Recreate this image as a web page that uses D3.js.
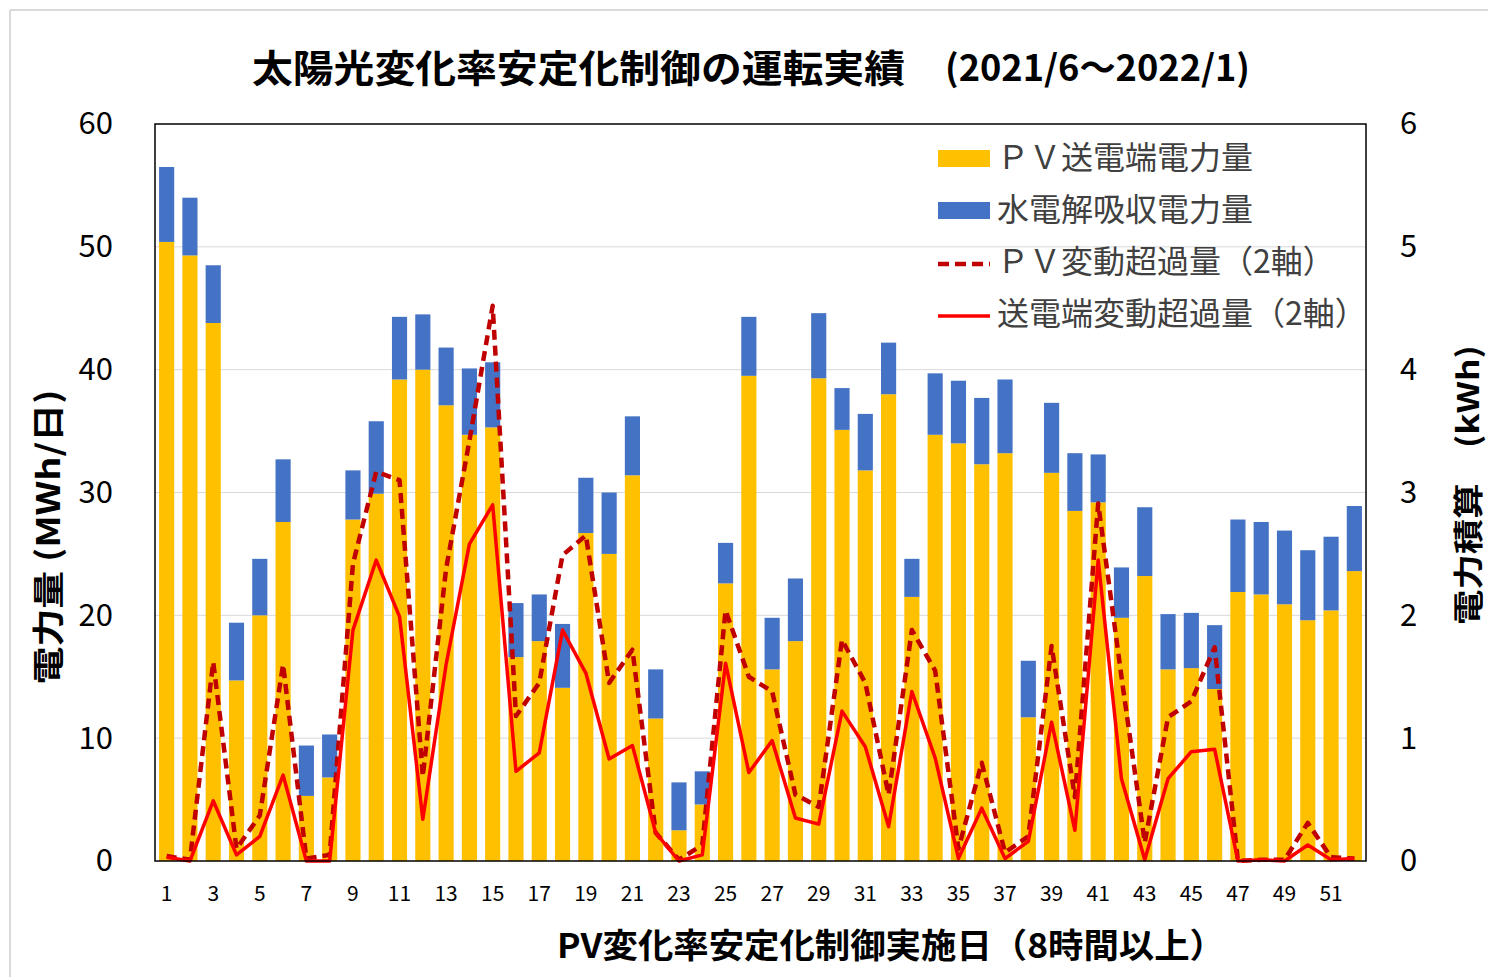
<!DOCTYPE html>
<html><head><meta charset="utf-8">
<script src="https://cdn.jsdelivr.net/npm/d3@7"></script>
<style>
html,body{margin:0;padding:0;background:#fff;}
text{font-family:"Noto Sans CJK JP","Noto Sans",sans-serif;}
</style></head>
<body><svg id="c" width="1488" height="977"></svg>
<script>
const days = d3.range(1, 53);
const pvSend = [50.4,49.3,43.8,14.7,20.0,27.6,5.3,6.8,27.8,29.9,39.2,40.0,37.1,34.7,35.3,16.6,17.9,14.1,26.7,25.0,31.4,11.6,2.5,4.6,22.6,39.5,15.6,17.9,39.3,35.1,31.8,38.0,21.5,34.7,34.0,32.3,33.2,11.7,31.6,28.5,29.2,19.8,23.2,15.6,15.7,14.0,21.9,21.7,20.9,19.6,20.4,23.6];
const hydro = [6.1,4.7,4.7,4.7,4.6,5.1,4.1,3.5,4.0,5.9,5.1,4.5,4.7,5.4,5.3,4.4,3.8,5.2,4.5,5.0,4.8,4.0,3.9,2.7,3.3,4.8,4.2,5.1,5.3,3.4,4.6,4.2,3.1,5.0,5.1,5.4,6.0,4.6,5.7,4.7,3.9,4.1,5.6,4.5,4.5,5.2,5.9,5.9,6.0,5.7,6.0,5.3];
const pvExcess = [0.04,0.01,1.62,0.10,0.37,1.60,0.02,0.05,2.42,3.17,3.10,0.69,2.38,3.42,4.52,1.18,1.45,2.49,2.65,1.45,1.72,0.23,0.01,0.13,2.04,1.50,1.38,0.54,0.44,1.80,1.45,0.54,1.88,1.55,0.10,0.80,0.07,0.20,1.75,0.52,2.91,1.50,0.15,1.17,1.30,1.74,0.00,0.01,0.01,0.31,0.03,0.02];
const sendExcess = [0.03,0.00,0.49,0.05,0.20,0.70,0.00,0.00,1.88,2.45,1.99,0.34,1.60,2.58,2.90,0.73,0.88,1.88,1.53,0.83,0.94,0.23,0.00,0.05,1.61,0.72,0.98,0.35,0.30,1.22,0.93,0.28,1.38,0.84,0.02,0.43,0.02,0.16,1.13,0.25,2.45,0.67,0.01,0.67,0.89,0.91,0.00,0.01,0.00,0.13,0.01,0.02];
const yTicks = [0,10,20,30,40,50,60];
const y2Ticks = [0,1,2,3,4,5,6];
const xTickLabels = days.filter(d => d % 2 === 1);
const seriesNames = ["ＰＶ送電端電力量","水電解吸収電力量","ＰＶ変動超過量（2軸）","送電端変動超過量（2軸）"];
const titleMain = "太陽光変化率安定化制御の運転実績";
const titleSub = "(2021/6～2022/1)";
const xTitle = "PV変化率安定化制御実施日（8時間以上）";
const yTitle = "電力量 (MWh/日)";
const y2Title = "電力積算　(kWh)";

const svg = d3.select("#c");
const L = 155, R = 1366, T = 124, B = 861;
const cPV = "#FFC000", cH = "#4472C4", cDash = "#C00000", cSolid = "#FF0000";

// outer chart border
svg.append("line").attr("x1",10).attr("y1",10).attr("x2",1488).attr("y2",10).attr("stroke","#d9d9d9").attr("stroke-width",2);
svg.append("line").attr("x1",10).attr("y1",10).attr("x2",10).attr("y2",977).attr("stroke","#d9d9d9").attr("stroke-width",2);

const x = d3.scaleBand().domain(days).range([L, R]).paddingInner(0.35).paddingOuter(0.175);
const y = d3.scaleLinear().domain([0, 60]).range([B, T]);
const y2 = d3.scaleLinear().domain([0, 6]).range([B, T]);

// gridlines
svg.append("g").selectAll("line").data(yTicks.filter(t => t > 0 && t < 60)).join("line")
  .attr("x1", L).attr("x2", R).attr("y1", d => y(d)).attr("y2", d => y(d))
  .attr("stroke", "#d9d9d9").attr("stroke-width", 1);

// stacked bars
const stackData = days.map((d, i) => ({day: d, pv: pvSend[i], h: hydro[i]}));
const stack = d3.stack().keys(["pv", "h"])(stackData);
const colors = [cPV, cH];
svg.append("g").selectAll("g").data(stack).join("g").attr("fill", (d, i) => colors[i])
  .selectAll("rect").data(d => d).join("rect")
  .attr("x", d => x(d.data.day)).attr("width", x.bandwidth())
  .attr("y", d => y(d[1])).attr("height", d => y(d[0]) - y(d[1]));

// lines
const line = d3.line().x((d, i) => x(days[i]) + x.bandwidth() / 2).y(d => y2(d));
svg.append("path").attr("d", line(pvExcess)).attr("fill", "none").attr("stroke", cDash)
  .attr("stroke-width", 4.5).attr("stroke-dasharray", "10,6").attr("stroke-linejoin", "round");
svg.append("path").attr("d", line(sendExcess)).attr("fill", "none").attr("stroke", cSolid)
  .attr("stroke-width", 3.5).attr("stroke-linejoin", "round");

// plot frame
svg.append("rect").attr("x", L).attr("y", T).attr("width", R - L).attr("height", B - T)
  .attr("fill", "none").attr("stroke", "#000").attr("stroke-width", 1.5);

// axes
const yAxis = d3.axisLeft(y).tickValues(yTicks).tickSize(0).tickPadding(0).tickFormat(d3.format("d"));
const gy = svg.append("g").attr("transform", `translate(${L - 42},0)`).call(yAxis);
gy.select(".domain").remove();
gy.selectAll("text").attr("font-size", 31).attr("fill", "#000").attr("font-family", '"Noto Sans CJK JP"');

const y2Axis = d3.axisRight(y2).tickValues(y2Ticks).tickSize(0).tickPadding(0).tickFormat(d3.format("d"));
const gy2 = svg.append("g").attr("transform", `translate(${R + 34},0)`).call(y2Axis);
gy2.select(".domain").remove();
gy2.selectAll("text").attr("font-size", 31).attr("fill", "#000").attr("font-family", '"Noto Sans CJK JP"');

const xAxis = d3.axisBottom(x).tickValues(xTickLabels).tickSize(0).tickPadding(0);
const gx = svg.append("g").attr("transform", `translate(0,${B + 25})`).call(xAxis);
gx.select(".domain").remove();
gx.selectAll("text").attr("font-size", 21).attr("fill", "#000").attr("font-family", '"Noto Sans CJK JP"');

// titles
svg.append("text").attr("x", 252).attr("y", 65).attr("dominant-baseline", "central")
  .attr("font-size", 38).attr("font-weight", "bold").attr("textLength", 653).attr("lengthAdjust", "spacingAndGlyphs")
  .text(titleMain);
svg.append("text").attr("x", 945).attr("y", 65).attr("dominant-baseline", "central")
  .attr("font-size", 36).attr("font-weight", "bold").attr("textLength", 305).attr("lengthAdjust", "spacingAndGlyphs")
  .text(titleSub);
svg.append("text").attr("x", 557).attr("y", 943).attr("dominant-baseline", "central")
  .attr("font-size", 34).attr("font-weight", "bold").attr("textLength", 668).attr("lengthAdjust", "spacingAndGlyphs")
  .text(xTitle);
svg.append("text").attr("transform", "translate(46,537) rotate(-90)").attr("text-anchor", "middle")
  .attr("dominant-baseline", "central").attr("font-size", 32).attr("font-weight", "bold")
  .attr("textLength", 295).attr("lengthAdjust", "spacingAndGlyphs").text(yTitle);
svg.append("text").attr("transform", "translate(1466,485) rotate(-90)").attr("text-anchor", "middle")
  .attr("dominant-baseline", "central").attr("font-size", 30).attr("font-weight", "bold")
  .attr("textLength", 280).attr("lengthAdjust", "spacingAndGlyphs").text(y2Title);

// legend
const lg = svg.append("g");
const rows = [157, 209, 261, 313];
seriesNames.forEach((name, i) => {
  const yy = rows[i];
  if (i < 2) {
    lg.append("rect").attr("x", 938).attr("y", yy - 7).attr("width", 52).attr("height", 17).attr("fill", colors[i]);
  } else if (i === 2) {
    lg.append("line").attr("x1", 938).attr("x2", 990).attr("y1", yy + 3).attr("y2", yy + 3)
      .attr("stroke", cDash).attr("stroke-width", 4.5).attr("stroke-dasharray", "11,6");
  } else {
    lg.append("line").attr("x1", 938).attr("x2", 990).attr("y1", yy + 3).attr("y2", yy + 3)
      .attr("stroke", cSolid).attr("stroke-width", 3.5);
  }
  lg.append("text").attr("x", 997).attr("y", yy - 2).attr("dominant-baseline", "central")
    .attr("font-size", 32).attr("fill", "#404040").text(name);
});
</script></body></html>
